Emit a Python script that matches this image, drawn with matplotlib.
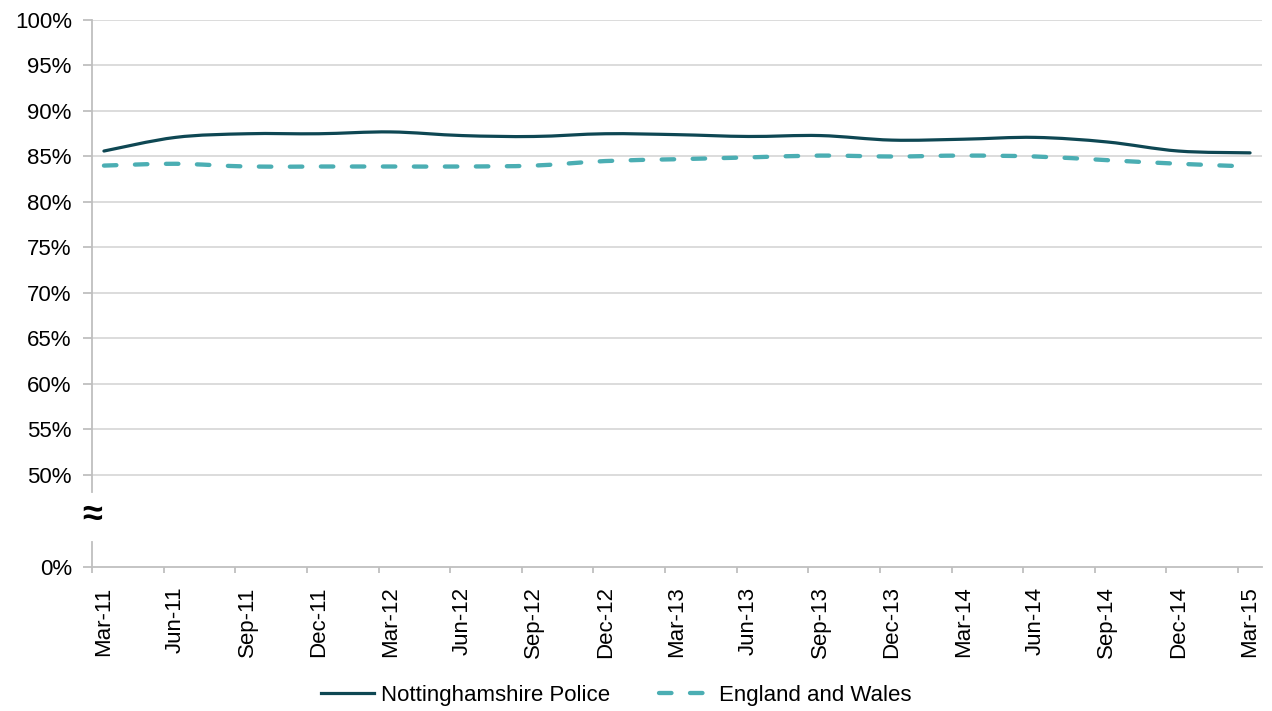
import numpy as np
import matplotlib.pyplot as plt
from matplotlib.path import Path
from matplotlib.patches import PathPatch
from matplotlib.lines import Line2D

plt.rcParams['font.family'] = ['Liberation Sans', 'DejaVu Sans']

quarters = ['Mar-11', 'Jun-11', 'Sep-11', 'Dec-11', 'Mar-12', 'Jun-12', 'Sep-12', 'Dec-12',
            'Mar-13', 'Jun-13', 'Sep-13', 'Dec-13', 'Mar-14', 'Jun-14', 'Sep-14', 'Dec-14', 'Mar-15']
notts = [85.6, 87.1, 87.5, 87.5, 87.7, 87.3, 87.2, 87.5, 87.4, 87.2, 87.3, 86.8, 86.9, 87.1, 86.6, 85.6, 85.4]
eng_wales = [84.0, 84.2, 83.9, 83.9, 83.9, 83.9, 84.0, 84.5, 84.7, 84.9, 85.1, 85.0, 85.1, 85.0, 84.6, 84.2, 83.9]
series_names = ['Nottinghamshire Police', 'England and Wales']

dark = '#0E4753'
light = '#4BAEB3'
grid_col = '#D9D9D9'
axis_col = '#BFBFBF'
dash = (0, (2.9, 4.3))


def smooth_path(xs, ys):
    # Catmull-Rom style bezier through the points (smoothed line)
    xs = np.asarray(xs, float)
    ys = np.asarray(ys, float)
    n = len(xs)
    verts = [(xs[0], ys[0])]
    codes = [Path.MOVETO]
    for i in range(n - 1):
        p0 = np.array([xs[max(i - 1, 0)], ys[max(i - 1, 0)]])
        p1 = np.array([xs[i], ys[i]])
        p2 = np.array([xs[i + 1], ys[i + 1]])
        p3 = np.array([xs[min(i + 2, n - 1)], ys[min(i + 2, n - 1)]])
        c1 = p1 + (p2 - p0) / 6
        c2 = p2 - (p3 - p1) / 6
        verts += [tuple(c1), tuple(c2), tuple(p2)]
        codes += [Path.CURVE4] * 3
    return Path(verts, codes)


W, H = 1272, 711
fig = plt.figure(figsize=(W / 100, H / 100), dpi=100)

left, right = 92 / W, 1262 / W
ax = fig.add_axes([left, 1 - 492 / H, right - left, (492 - 20) / H])
ax_low = fig.add_axes([left, 1 - 567 / H, right - left, (567 - 542) / H])

# date axis in months: each quarter-end point sits in the middle of its month slot
months = np.arange(len(quarters)) * 3
x = months + 0.5
n_months = months[-1] + 1

# upper panel: 50% - 100%
ax.set_ylim(48.13, 100)
ax.set_xlim(0, n_months)
ax.set_yticks(np.arange(50, 101, 5))
ax.set_yticklabels([f'{v}%' for v in range(50, 101, 5)])
for v in range(50, 101, 5):
    ax.axhline(v, color=grid_col, lw=1.3, zorder=0)

ax.add_patch(PathPatch(smooth_path(x, notts), fill=False, color=dark, lw=2.3,
                       capstyle='round', zorder=3))
ax.add_patch(PathPatch(smooth_path(x, eng_wales), fill=False, color=light, lw=3.1,
                       linestyle=dash, capstyle='round', zorder=3))

for s in ['top', 'right', 'bottom']:
    ax.spines[s].set_visible(False)
ax.spines['left'].set_color(axis_col)
ax.spines['left'].set_linewidth(1.3)
ax.tick_params(axis='y', length=6.5, width=1.3, color=axis_col, labelsize=16, pad=8)
ax.set_xticks([])

# lower panel: 0%
ax_low.set_ylim(0, 2.75)
ax_low.set_xlim(0, n_months)
ax_low.set_yticks([0])
ax_low.set_yticklabels(['0%'])
ax_low.set_xticks(months)
ax_low.set_xticklabels([])
ax_low.set_xticks(x, minor=True)
ax_low.set_xticklabels(quarters, minor=True, rotation=90, fontsize=16, ha='center')
for s in ['top', 'right']:
    ax_low.spines[s].set_visible(False)
for s in ['left', 'bottom']:
    ax_low.spines[s].set_color(axis_col)
    ax_low.spines[s].set_linewidth(1.3)
ax_low.tick_params(axis='y', length=6.5, width=1.3, color=axis_col, labelsize=16, pad=8)
ax_low.tick_params(axis='x', which='major', length=4.5, width=1.3, color=axis_col)
ax_low.tick_params(axis='x', which='minor', length=0, pad=14)

# axis break marker
fig.text(left, 1 - 516 / H, '≈', fontsize=26, fontweight='bold', ha='center', va='center')

handles = [Line2D([], [], color=dark, lw=2.3),
           Line2D([], [], color=light, lw=3.1, linestyle=dash, dash_capstyle='round')]
fig.legend(handles, series_names, loc='center', bbox_to_anchor=(616 / W, 1 - 695 / H),
           ncol=2, frameon=False, fontsize=16, handlelength=2.4, handletextpad=0.3,
           columnspacing=2.2)

fig.savefig('out.png', dpi=100)
